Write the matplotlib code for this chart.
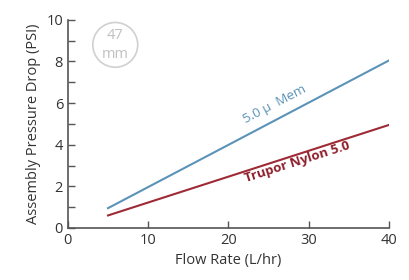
import matplotlib
matplotlib.use('Agg')
import matplotlib.pyplot as plt
from matplotlib.patches import Ellipse
import numpy as np

plt.rcParams['font.family'] = ['Open Sans', 'DejaVu Sans']

flow = [5, 40]
mem_psi = [0.95, 8.05]
nylon_psi = [0.6, 4.95]

fig = plt.figure(figsize=(4.09, 2.8), dpi=100)
ax = fig.add_axes([0.166, 0.186, 0.785, 0.743])

ax.plot(flow, mem_psi, color='#5b93b8', lw=1.5)
ax.plot(flow, nylon_psi, color='#9e2a35', lw=1.5)

ax.set_xlim(0, 40)
ax.set_ylim(0, 10)
ax.set_xticks([0, 10, 20, 30, 40])
ax.set_yticks([0, 2, 4, 6, 8, 10])
ax.set_yticks([1, 3, 5, 7, 9], minor=True)
ax.tick_params(direction='in', length=5, width=1, colors='#555555',
               labelcolor='#333333', labelsize=10.5)
ax.tick_params(which='minor', direction='in', length=5, width=1, colors='#555555')
for s in ['top', 'right']:
    ax.spines[s].set_visible(False)
for s in ['left', 'bottom']:
    ax.spines[s].set_color('#555555')
    ax.spines[s].set_linewidth(1.2)

ax.set_xlabel('Flow Rate (L/hr)', fontsize=10.5, color='#333333')
ax.set_ylabel('Assembly Pressure Drop (PSI)', fontsize=10.5, color='#333333')

ax.text(25.8, 5.95, '5.0 \u00b5  Mem', color='#5b93b8', fontsize=9.5,
        rotation=27.5, ha='center', va='center')
ax.text(28.6, 3.15, 'Trupor Nylon 5.0', color='#8e1f2b', fontsize=9.5,
        fontweight='bold', rotation=17.8, ha='center', va='center')

# 47 mm badge
ax.add_patch(Ellipse((5.9, 8.8), 5.6, 2.15, fill=False, ec='#d0d0d0', lw=1.2,
                     clip_on=False))
ax.text(5.9, 9.25, '47', color='#c0c0c0', fontsize=10.5, ha='center', va='center')
ax.text(5.9, 8.35, 'mm', color='#c0c0c0', fontsize=10.5, ha='center', va='center')

fig.savefig('out.png', dpi=100)
